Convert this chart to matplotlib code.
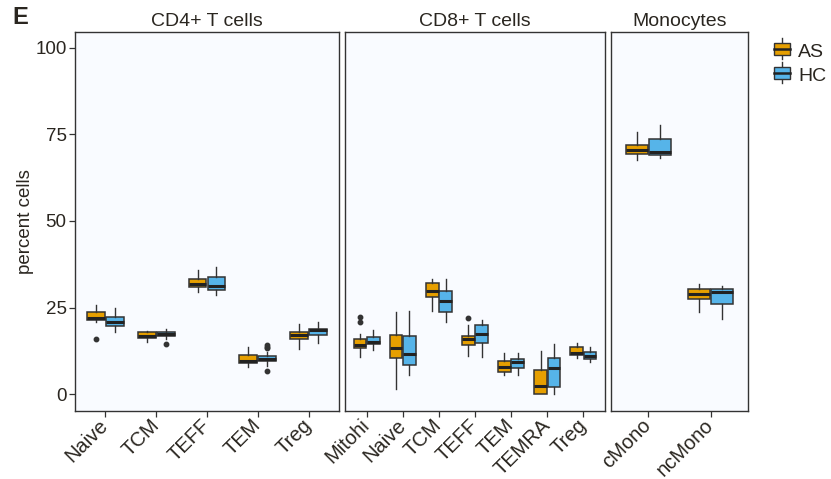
import matplotlib
matplotlib.use("Agg")
import matplotlib.pyplot as plt
from matplotlib.patches import Rectangle
from matplotlib.lines import Line2D
from matplotlib.legend_handler import HandlerBase

plt.rcParams["font.family"] = ["Liberation Sans", "DejaVu Sans"]

# box stats per cell type: (whislo, q1, med, q3, whishi)
cd4_cats = ["Naive", "TCM", "TEFF", "TEM", "Treg"]
cd4_as = [(20.9, 21.4, 22.0, 23.6, 25.7), (15.1, 16.1, 16.9, 17.8, 18.1),
          (29.6, 31.0, 31.8, 33.2, 35.8), (7.9, 8.9, 9.6, 11.2, 13.6),
          (13.1, 15.8, 17.1, 17.9, 20.2)]
cd4_hc = [(18.0, 19.7, 20.9, 22.2, 24.8), (16.0, 16.7, 17.3, 17.9, 18.7),
          (28.7, 30.0, 31.3, 33.7, 36.7), (8.2, 9.5, 10.2, 11.0, 12.1),
          (14.8, 17.0, 18.5, 18.8, 20.7)]
cd4_as_out = [[15.8], [], [], [], []]
cd4_hc_out = [[], [14.4], [], [14.2, 13.7, 13.3, 6.8], []]

cd8_cats = ["Mitohi", "Naive", "TCM", "TEFF", "TEM", "TEMRA", "Treg"]
cd8_as = [(10.8, 13.4, 14.2, 15.8, 17.3), (1.6, 10.4, 13.4, 17.0, 23.7),
          (24.1, 27.9, 29.9, 32.1, 33.2), (11.1, 14.2, 15.9, 16.9, 19.9),
          (5.4, 6.3, 7.8, 9.5, 11.8), (0.0, 0.0, 2.4, 6.9, 12.4),
          (10.3, 11.3, 11.9, 13.5, 14.7)]
cd8_hc = [(12.8, 14.4, 15.1, 16.6, 18.5), (5.6, 8.3, 11.6, 16.7, 24.0),
          (20.9, 23.6, 27.0, 29.8, 33.2), (10.8, 14.7, 17.4, 19.9, 21.3),
          (5.6, 7.5, 9.2, 10.2, 11.8), (0.0, 2.0, 7.6, 10.5, 14.4),
          (9.2, 10.2, 11.1, 12.1, 13.5)]
cd8_as_out = [[22.2, 20.9], [], [], [22.1], [], [], []]
cd8_hc_out = [[], [], [], [], [], [], []]

mono_cats = ["cMono", "ncMono"]
mono_as = [(67.7, 69.3, 70.6, 72.0, 75.7), (23.8, 27.5, 29.0, 30.3, 31.8)]
mono_hc = [(68.3, 69.0, 70.0, 73.6, 77.7), (21.8, 25.9, 29.6, 30.4, 31.2)]
mono_as_out = [[], []]
mono_hc_out = [[], []]

groups = ["AS", "HC"]
colors = {"AS": "#E69F00", "HC": "#56B4E9"}
ink = "#333333"
txt = "#2a2620"

panels = [
    ("CD4+ T cells", cd4_cats, cd4_as, cd4_hc, cd4_as_out, cd4_hc_out, (75, 339)),
    ("CD8+ T cells", cd8_cats, cd8_as, cd8_hc, cd8_as_out, cd8_hc_out, (345, 605)),
    ("Monocytes", mono_cats, mono_as, mono_hc, mono_as_out, mono_hc_out, (611, 748)),
]

W, H = 831, 479
fig = plt.figure(figsize=(W / 100, H / 100), dpi=100)
top_px, bot_px = 32, 411


def to_stats(rows, outs):
    return [dict(whislo=r[0], q1=r[1], med=r[2], q3=r[3], whishi=r[4], fliers=o)
            for r, o in zip(rows, outs)]


axes = []
for i, (title, cats, as_rows, hc_rows, as_out, hc_out, (x0, x1)) in enumerate(panels):
    ax = fig.add_axes([x0 / W, 1 - bot_px / H, (x1 - x0) / W, (bot_px - top_px) / H])
    ax.set_facecolor("#F9FBFF")
    pos = list(range(1, len(cats) + 1))
    for g, rows, outs, off in (("AS", as_rows, as_out, -0.185), ("HC", hc_rows, hc_out, 0.185)):
        ax.bxp(to_stats(rows, outs), positions=[p + off for p in pos], widths=0.35,
               patch_artist=True, showcaps=False,
               boxprops=dict(facecolor=colors[g], edgecolor=ink, linewidth=1.1),
               medianprops=dict(color="#222222", linewidth=2.2),
               whiskerprops=dict(color=ink, linewidth=1.0),
               flierprops=dict(marker="o", markerfacecolor=ink, markeredgecolor=ink,
                               markersize=3.2))
    ax.set_xlim(0.4, len(cats) + 0.6)
    ax.set_ylim(-4.9, 104.6)
    ax.set_xticks(pos)
    ax.set_xticklabels(cats, rotation=45, ha="right", va="center",
                       rotation_mode="anchor", fontsize=14.5, color=txt)
    ax.set_yticks([0, 25, 50, 75, 100])
    if i == 0:
        ax.set_yticklabels(["0", "25", "50", "75", "100"], fontsize=13.5, color=txt)
        ax.set_ylabel("percent cells", fontsize=13.5, color=txt, labelpad=1)
    else:
        ax.tick_params(axis="y", left=False, labelleft=False)
    ax.tick_params(colors=ink, labelcolor=txt, length=4, width=0.9, pad=2)
    ax.tick_params(axis="x", pad=4)
    for s in ax.spines.values():
        s.set_color(ink)
        s.set_linewidth(1.0)
    ax.set_title(title, fontsize=14, color=txt, pad=4)
    axes.append(ax)

fig.text(12 / W, 1 - 18 / H, "E", fontsize=17, fontweight="bold", color=txt, va="center")


class BoxKey(HandlerBase):
    def create_artists(self, legend, orig, xd, yd, width, height, fontsize, trans):
        c = orig.get_facecolor()
        bw = width * 0.9
        bx = xd + (width - bw) / 2
        cx = xd + width / 2
        rect = Rectangle((bx, yd + height * 0.1), bw, height * 0.8,
                         facecolor=c, edgecolor=ink, linewidth=1.0, transform=trans)
        med = Line2D([bx, bx + bw], [yd + height * 0.5] * 2, color="#222222",
                     linewidth=1.8, transform=trans)
        wh1 = Line2D([cx, cx], [yd + height * 0.9, yd + height * 1.2], color=ink,
                     linewidth=1.0, transform=trans)
        wh2 = Line2D([cx, cx], [yd - height * 0.2, yd + height * 0.1], color=ink,
                     linewidth=1.0, transform=trans)
        return [wh1, wh2, rect, med]


handles = [Rectangle((0, 0), 1, 1, facecolor=colors[g]) for g in groups]
fig.legend(handles, groups, handler_map={Rectangle: BoxKey()},
           loc="upper left", bbox_to_anchor=(765 / W, 1 - 35 / H),
           frameon=False, fontsize=14, handlelength=0.95, handleheight=0.8,
           handletextpad=0.35, labelspacing=0.3, labelcolor=txt, borderaxespad=0)

fig.savefig("out.png", dpi=100)
